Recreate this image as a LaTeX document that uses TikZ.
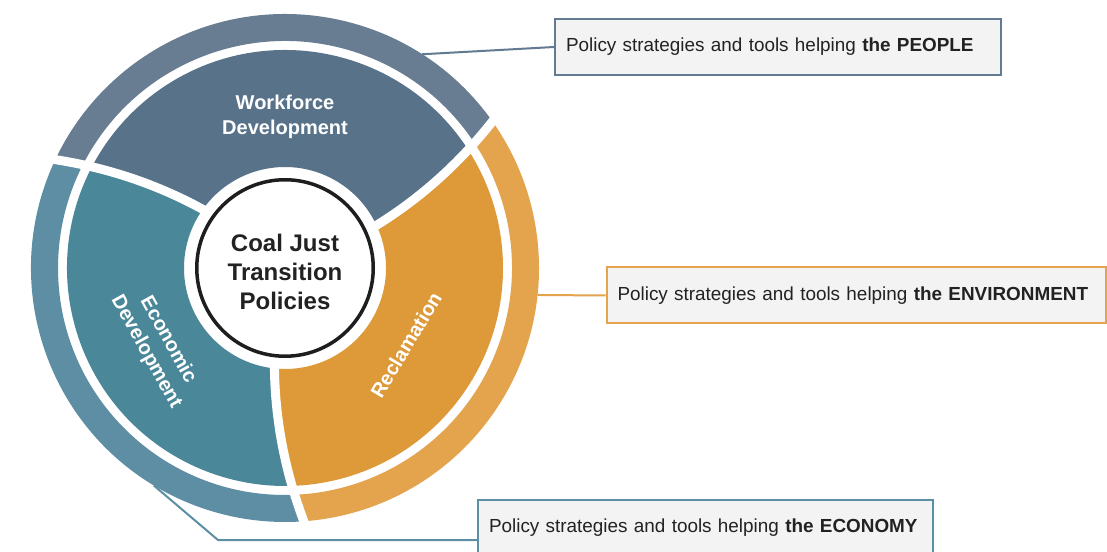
\documentclass[tikz,border=0pt]{standalone}
\usepackage{fontspec}
\setmainfont{Liberation Sans}
\definecolor{wfIn}{RGB}{88,114,138}
\definecolor{wfOut}{RGB}{104,124,146}
\definecolor{ecIn}{RGB}{74,135,153}
\definecolor{ecOut}{RGB}{93,142,163}
\definecolor{rcIn}{RGB}{222,153,57}
\definecolor{rcOut}{RGB}{228,164,77}
\definecolor{boxfill}{RGB}{242,243,242}
\definecolor{peopleC}{RGB}{99,122,147}
\definecolor{envC}{RGB}{228,164,77}
\definecolor{econC}{RGB}{91,143,163}
\definecolor{txtC}{RGB}{34,34,34}
\definecolor{coreC}{RGB}{30,30,30}
\newcommand\ringpart[5]{%
  \fill[#1] plot[domain=#4:#5,samples=15] ({#2+0.067*(\x-101)}:\x)
    arc[start angle={#2+0.067*(#5-101)}, end angle={#3+0.067*(#5-101)}, radius=#5]
    -- plot[domain=#5:#4,samples=15] ({#3+0.067*(\x-101)}:\x)
    arc[start angle={#3+0.067*(#4-101)}, end angle={#2+0.067*(#4-101)}, radius=#4] -- cycle;}
\newcommand\ringgap[1]{%
  \draw[white,line width=9pt] plot[domain=94:262,samples=20] ({#1+0.067*(\x-101)}:\x);}
\begin{document}
\begin{tikzpicture}[x=1pt,y=1pt,
  box/.style={fill=boxfill, line width=2pt, inner xsep=11pt, inner ysep=0pt,
    align=left, text=txtC, minimum height=56pt,
    font=\fontsize{18.9}{22}\selectfont},
  seglabel/.style={text=white, align=center, inner sep=0pt,
    font=\fontsize{20}{25}\selectfont\bfseries},
  conn/.style={line width=2pt}]
\useasboundingbox (0,0) rectangle (1107,551);
\fill[white] (0,0) rectangle (1107,551);
% ring anchor coordinates
\begin{scope}[shift={(285,283)}]
  \coordinate (rp) at (57.3:254);
  \coordinate (re) at (-6.1:254);
  \coordinate (rc) at (238.9:254);
\end{scope}
\coordinate (ek) at (218,11);
% callout boxes
\node[box, draw=peopleC, text width=424pt] (people) at (778,504)
  {Policy strategies and tools helping \textbf{the PEOPLE}};
\node[box, draw=envC, text width=477pt] (env) at (856,255.5)
  {Policy strategies and tools helping \textbf{the ENVIRONMENT}};
\node[box, draw=econC, text width=433pt] (econ) at (705.5,23)
  {Policy strategies and tools helping \textbf{the ECONOMY}};
% connectors
\draw[conn, peopleC] (rp) -- (people.west);
\draw[conn, envC] (re) -- (env.west);
\draw[conn, econC] (rc) -- (ek) -- (ek -| econ.west);
% ring
\begin{scope}[shift={(285,283)}]
  \ringpart{wfIn}{25}{144.5}{101}{218}
  \ringpart{ecIn}{144.5}{264}{101}{218}
  \ringpart{rcIn}{264}{385}{101}{218}
  \ringpart{wfOut}{25}{144.5}{227}{254}
  \ringpart{ecOut}{144.5}{264}{227}{254}
  \ringpart{rcOut}{264}{385}{227}{254}
  \ringgap{25}
  \ringgap{144.5}
  \ringgap{264}
\end{scope}
% core
\node[circle, draw=coreC, line width=3.5pt, fill=white, minimum size=176.5pt,
  inner sep=0pt] (core) at (285,283) {};
\node[align=center, inner sep=0pt, text=txtC,
  font=\fontsize{24}{29}\selectfont\bfseries] (coretxt) at (285,279.5)
  {Coal Just\\Transition\\Policies};
% segment labels
\node[seglabel] (wflabel) at (285,434.5) {Workforce\\Development};
\node[seglabel, rotate=-61] (eclabel) at (157,205) {Economic\\Development};
\node[seglabel, rotate=59] (rclabel) at (406,206) {Reclamation};
\end{tikzpicture}
\end{document}
